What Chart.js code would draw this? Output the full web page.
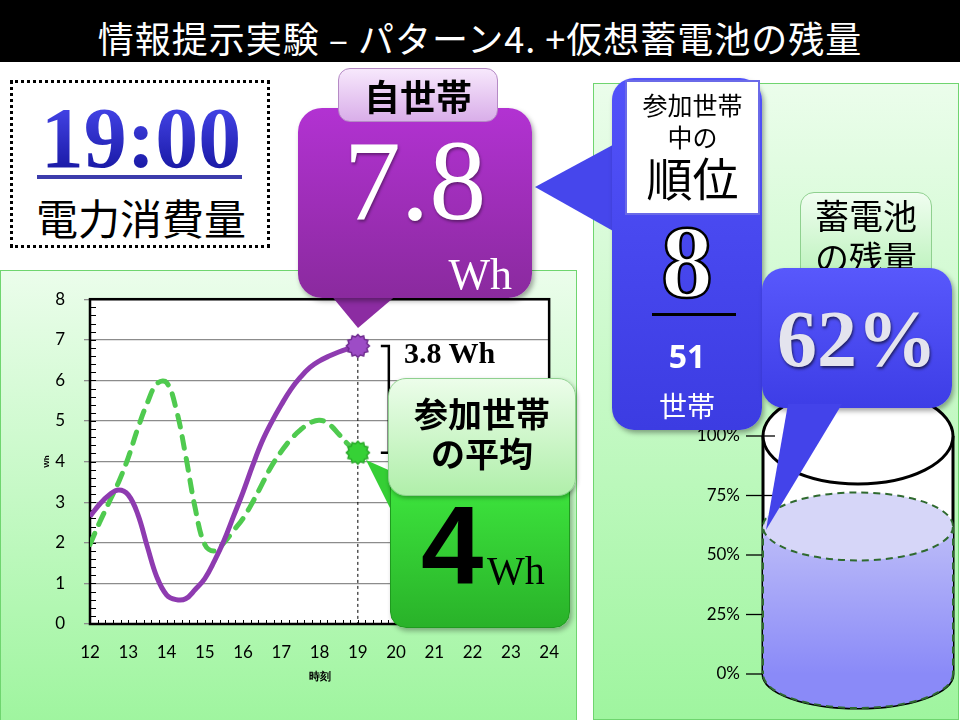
<!DOCTYPE html>
<html>
<head>
<meta charset="utf-8">
<script src="https://cdn.jsdelivr.net/npm/chart.js@4.4.0/dist/chart.umd.min.js"></script>
<style>
  body { margin: 0; background: #fff; }
  #slide { position: relative; width: 960px; height: 720px; overflow: hidden; background: #fff;
    font-family: "Noto Sans CJK JP", sans-serif; }
  .abs { position: absolute; }
  #title { left: 0; top: 0; width: 960px; height: 62px; background: #000; color: #fff;
    font-size: 36px; line-height: 62px; text-align: center; padding-top: 6px; box-sizing: border-box; letter-spacing: 1px; }
  .panel { background: linear-gradient(#ebfdeb, #9ff59f); border: 1px solid #6fd56f; box-sizing: border-box; }
  .serif { font-family: "Liberation Serif", serif; }
  .tri { position: absolute; left: 0; top: 0; width: 960px; height: 720px; }
</style>
</head>
<body>
<div id="slide">
  <div id="title" class="abs">情報提示実験 – パターン4. +仮想蓄電池の残量</div>

  <!-- clock box -->
  <div class="abs" style="left:10px;top:80px;width:260px;height:168px;border:3px dotted #000;box-sizing:border-box;"></div>
  <div class="abs serif" style="left:10px;top:95px;width:262px;text-align:center;font-size:86px;line-height:86px;font-weight:bold;
    background:linear-gradient(#4b4bf2,#12129a);-webkit-background-clip:text;background-clip:text;color:transparent;">19:00</div>
  <div class="abs" style="left:37px;top:175px;width:205px;height:4px;background:#3c3cac;"></div>
  <div class="abs" style="left:10px;top:190px;width:262px;text-align:center;font-size:42px;line-height:54px;">電力消費量</div>

  <!-- panels -->
  <div class="abs panel" style="left:0;top:270px;width:577px;height:452px;"></div>
  <div class="abs panel" style="left:593px;top:83px;width:366px;height:637px;"></div>

  <canvas id="lineChart" class="abs" width="577" height="450" style="left:0;top:270px;"></canvas>
  <canvas id="tankChart" class="abs" width="280" height="340" style="left:680px;top:380px;"></canvas>

  <div class="abs serif" style="left:404px;top:338px;font-size:30px;line-height:30px;font-weight:bold;">3.8 Wh</div>

  <!-- callout tails -->
  <svg class="tri" viewBox="0 0 960 720">
    <polygon points="325,288 405,288 358,328" fill="#8c2ca2"/>
    <polygon points="622,140 622,236 535,187" fill="#4646ec"/>
    <polygon points="366,460 402,476 402,532" fill="#35cf35"/>
  </svg>

  <!-- own household callout -->
  <div class="abs" style="left:298px;top:108px;width:234px;height:190px;border-radius:24px;
    background:linear-gradient(#b232d2,#8a2a9e);box-shadow:2px 3px 5px rgba(0,0,0,0.35);">
    <div class="abs serif" style="left:0;top:16px;width:234px;text-align:center;color:#fff;font-size:114px;line-height:114px;
      text-shadow:1px 2px 3px rgba(0,0,0,0.4);">7.8</div>
    <div class="abs serif" style="right:20px;top:145px;color:#fff;font-size:44px;line-height:44px;">Wh</div>
  </div>
  <div class="abs" style="left:338px;top:68px;width:160px;height:54px;border-radius:12px;box-sizing:border-box;
    background:linear-gradient(#f7e8fc,#d9aee9);border:1px solid #b58ac5;text-align:center;font-size:36px;line-height:52px;font-weight:bold;">自世帯</div>

  <!-- average callout -->
  <div class="abs" style="left:390px;top:470px;width:180px;height:158px;border-radius:16px;box-sizing:border-box;
    background:linear-gradient(#3fe93f,#29b229);border:1px solid #1f9a1f;box-shadow:2px 3px 5px rgba(0,0,0,0.3);">
    <div class="abs" style="left:30px;top:19px;font-family:'Liberation Sans',sans-serif;font-weight:bold;font-size:112px;line-height:112px;">4</div>
    <div class="abs serif" style="left:96px;top:80px;font-size:40px;line-height:40px;">Wh</div>
  </div>
  <div class="abs" style="left:388px;top:378px;width:188px;height:118px;border-radius:18px;box-sizing:border-box;
    background:linear-gradient(#ecfdea,#b0efaa);border:1px solid #8fd08f;box-shadow:1px 2px 4px rgba(0,0,0,0.3);
    text-align:center;font-size:34px;line-height:40px;font-weight:bold;padding-top:14px;">参加世帯<br>の平均</div>

  <!-- rank callout -->
  <div class="abs" style="left:612px;top:78px;width:150px;height:352px;border-radius:22px;
    background:linear-gradient(#5252fa,#3c3ce2);box-shadow:2px 3px 5px rgba(0,0,0,0.35);"></div>
  <div class="abs" style="left:625px;top:80px;width:135px;height:135px;background:#fff;border:2px solid #6a6ae8;box-sizing:border-box;text-align:center;">
    <div style="font-size:25px;line-height:32px;margin-top:6px;">参加世帯</div>
    <div style="font-size:25px;line-height:32px;">中の</div>
    <div style="font-size:46px;line-height:52px;margin-top:-2px;">順位</div>
  </div>
  <div class="abs serif" style="left:612px;top:210px;width:150px;text-align:center;color:#fff;font-weight:bold;font-size:104px;line-height:104px;
    -webkit-text-stroke:2.5px #000;">8</div>
  <div class="abs" style="left:652px;top:313px;width:84px;height:3px;background:#000;"></div>
  <div class="abs" style="left:612px;top:335px;width:150px;text-align:center;color:#fff;font-weight:bold;font-size:32px;line-height:42px;font-family:'Open Sans',sans-serif;">51</div>
  <div class="abs" style="left:612px;top:385px;width:150px;text-align:center;color:#fff;font-size:28px;line-height:40px;">世帯</div>

  <!-- battery -->
  <div class="abs" style="left:800px;top:192px;width:132px;height:92px;border-radius:14px;box-sizing:border-box;
    background:linear-gradient(#f0fdf0,#b8f2b8);border:1px solid #8fd08f;text-align:center;font-size:34px;line-height:42px;padding-top:1px;">蓄電池<br>の残量</div>
  <div class="abs" style="left:762px;top:268px;width:190px;height:140px;border-radius:22px;
    background:linear-gradient(#5858fc,#3d3de6);box-shadow:2px 3px 5px rgba(0,0,0,0.35);">
    <div class="abs serif" style="left:0;top:31px;width:190px;text-align:center;color:#e4e4ee;font-size:80px;line-height:80px;font-weight:bold;
      text-shadow:1px 2px 3px rgba(0,0,0,0.6);">62%</div>
  </div>
  <svg class="tri" viewBox="0 0 960 720" style="pointer-events:none;">
    <polygon points="788,404 842,404 766,530" fill="#4343ea"/>
  </svg>
</div>

<script>
// time of day (hours) and consumption in Wh
const hours = [12, 12.25, 12.5, 12.75, 13, 13.25, 13.5, 13.75, 14, 14.25, 14.5, 14.75, 15, 15.25, 15.5,
  15.75, 16, 16.25, 16.5, 16.75, 17, 17.25, 17.5, 17.75, 18, 18.25, 18.5, 18.75, 19];
const selfWh = [2.65, 2.95, 3.18, 3.3, 3.18, 2.7, 1.9, 1.15, 0.72, 0.6, 0.62, 0.85, 1.12, 1.55, 2.05,
  2.65, 3.25, 3.9, 4.5, 4.98, 5.4, 5.78, 6.08, 6.32, 6.48, 6.6, 6.7, 6.78, 6.85];
const avgWh = [1.96, 2.5, 3.0, 3.5, 4.1, 4.82, 5.45, 5.92, 5.95, 5.3, 4.15, 2.85, 1.96, 1.8, 2.0,
  2.3, 2.6, 3.0, 3.45, 3.9, 4.25, 4.55, 4.78, 4.95, 5.02, 4.92, 4.68, 4.42, 4.22];
const nowHour = 19;

// battery
const tankLabels = ['蓄電池'];
const batteryPct = [62];
const batteryTicks = [0, 25, 50, 75, 100];

const nowIdx = hours.indexOf(nowHour);

// little sunburst marker for the current hour
function burst(fill, edge) {
  const c = document.createElement('canvas');
  c.width = c.height = 26;
  const g = c.getContext('2d');
  g.beginPath();
  for (let i = 0; i < 24; i++) {
    const r = i % 2 ? 9.3 : 11.5;
    const ang = i * Math.PI / 12;
    g.lineTo(13 + r * Math.cos(ang), 13 + r * Math.sin(ang));
  }
  g.closePath();
  g.fillStyle = fill; g.fill();
  g.strokeStyle = edge; g.lineWidth = 1.5; g.stroke();
  return c;
}
const purpleBurst = burst('#9d4cc6', '#6e2a8e');
const greenBurst = burst('#36d136', '#2aa82a');

const chartFrame = {
  id: 'chartFrame',
  beforeDraw(chart) {
    const { ctx, chartArea: a } = chart;
    ctx.save();
    ctx.fillStyle = '#fff';
    ctx.fillRect(a.left, a.top, a.width, a.height);
    ctx.restore();
  },
  beforeDatasetsDraw(chart) {
    const { ctx, chartArea: a, scales: { x, y } } = chart;
    ctx.save();
    // minor ticks, pointing inward
    ctx.strokeStyle = '#000';
    ctx.lineWidth = 1;
    for (let v = 0; v <= 8.001; v += 0.2) {
      const py = Math.round(y.getPixelForValue(v)) + 0.5;
      ctx.beginPath(); ctx.moveTo(a.left, py); ctx.lineTo(a.left + 6, py); ctx.stroke();
    }
    for (let h = 12; h <= 24.001; h += 0.2) {
      const px = Math.round(x.getPixelForValue(h)) + 0.5;
      ctx.beginPath(); ctx.moveTo(px, a.bottom); ctx.lineTo(px, a.bottom - 4); ctx.stroke();
    }
    // current hour guide
    const gx = x.getPixelForValue(nowHour);
    ctx.setLineDash([3, 3]);
    ctx.beginPath(); ctx.moveTo(gx, y.getPixelForValue(selfWh[nowIdx])); ctx.lineTo(gx, a.bottom); ctx.stroke();
    ctx.setLineDash([]);
    // frame
    ctx.lineWidth = 2.5;
    ctx.strokeRect(a.left, a.top, a.width, a.height);
    ctx.restore();
  },
  afterDraw(chart) {
    const { ctx, scales: { x, y } } = chart;
    const bx = x.getPixelForValue(nowHour) + 23;
    const t = y.getPixelForValue(selfWh[nowIdx]);
    const b = y.getPixelForValue(avgWh[nowIdx]);
    ctx.save();
    ctx.strokeStyle = '#000';
    ctx.lineWidth = 2.5;
    ctx.beginPath();
    ctx.moveTo(bx, t); ctx.lineTo(bx + 8, t); ctx.lineTo(bx + 8, b); ctx.lineTo(bx, b);
    ctx.moveTo(bx + 8, (t + b) / 2); ctx.lineTo(bx + 16, (t + b) / 2);
    ctx.stroke();
    ctx.restore();
  }
};

new Chart(document.getElementById('lineChart'), {
  type: 'line',
  data: {
    datasets: [{
      label: '自世帯',
      data: hours.map((h, i) => ({ x: h, y: selfWh[i] })),
      borderColor: '#8e3bb0',
      borderWidth: 5,
      tension: 0.4,
      pointRadius: c => c.dataIndex === nowIdx ? 11 : 0,
      pointStyle: c => c.dataIndex === nowIdx ? purpleBurst : 'circle'
    }, {
      label: '参加世帯の平均',
      data: hours.map((h, i) => ({ x: h, y: avgWh[i] })),
      borderColor: '#4fca4f',
      borderWidth: 5,
      borderDash: [12, 10],
      borderCapStyle: 'round',
      tension: 0.4,
      pointRadius: c => c.dataIndex === nowIdx ? 11 : 0,
      pointStyle: c => c.dataIndex === nowIdx ? greenBurst : 'circle'
    }]
  },
  options: {
    responsive: false,
    animation: false,
    layout: { padding: { left: 30, top: 25, right: 27, bottom: 30 } },
    plugins: { legend: { display: false }, tooltip: { enabled: false } },
    scales: {
      x: {
        type: 'linear', min: 12, max: 24,
        ticks: { stepSize: 1, color: '#000', padding: 18, font: { family: 'Lato', size: 17 } },
        grid: { display: false, drawTicks: false },
        border: { color: '#000', width: 2 },
        title: { display: true, text: '時刻', color: '#000', font: { size: 11, weight: 'bold' }, padding: { top: 4, bottom: 6 } },
        afterFit: s => { s.height = 66; }
      },
      y: {
        min: 0, max: 8,
        ticks: { stepSize: 1, color: '#000', padding: 19, font: { family: 'Lato', size: 17 } },
        grid: { color: '#8c8c8c', lineWidth: 1.3, tickLength: 6 },
        border: { color: '#000', width: 2 },
        title: { display: true, text: 'Wh', color: '#000', font: { size: 8, weight: 'bold' }, padding: { top: 12, bottom: 0 } },
        afterFit: s => { s.width = 60; }
      }
    }
  },
  plugins: [chartFrame]
});

const tankShape = {
  id: 'tankShape',
  beforeDatasetsDraw(chart) {
    const { ctx, chartArea: a, scales: { y } } = chart;
    const cx = (a.left + a.right) / 2, rx = a.width / 2;
    const y100 = y.getPixelForValue(100), y0 = y.getPixelForValue(0);
    ctx.save();
    ctx.fillStyle = '#fff';
    ctx.fillRect(a.left, y100, a.width, y0 - y100);
    ctx.beginPath(); ctx.ellipse(cx, y0, rx, 34, 0, 0, Math.PI); ctx.fill();
    ctx.strokeStyle = '#000';
    ctx.lineWidth = 3;
    ctx.beginPath();
    ctx.moveTo(a.left, y100); ctx.lineTo(a.left, y0);
    ctx.moveTo(a.right, y100); ctx.lineTo(a.right, y0);
    ctx.stroke();
    ctx.beginPath(); ctx.ellipse(cx, y0, rx, 34, 0, 0, Math.PI); ctx.stroke();
    ctx.beginPath(); ctx.ellipse(cx, y100, rx, 48, 0, 0, Math.PI * 2);
    ctx.fillStyle = '#fff'; ctx.fill(); ctx.stroke();
    // tick marks
    ctx.lineWidth = 1.3;
    batteryTicks.forEach(v => {
      const py = y.getPixelForValue(v);
      ctx.beginPath(); ctx.moveTo(a.left - 17, py); ctx.lineTo(a.left + 12, py); ctx.stroke();
    });
    ctx.restore();
  },
  afterDatasetsDraw(chart) {
    const { ctx, chartArea: a, scales: { y } } = chart;
    const cx = (a.left + a.right) / 2, rx = a.width / 2;
    const yt = y.getPixelForValue(batteryPct[0]), y0 = y.getPixelForValue(0);
    ctx.save();
    ctx.fillStyle = '#8a8af8';
    ctx.beginPath(); ctx.ellipse(cx, y0, rx, 34, 0, 0, Math.PI); ctx.fill();
    ctx.strokeStyle = '#2f6a2f';
    ctx.lineWidth = 2;
    ctx.setLineDash([7, 5]);
    ctx.beginPath(); ctx.ellipse(cx, y0, rx, 34, 0, 0, Math.PI); ctx.stroke();
    ctx.beginPath();
    ctx.moveTo(a.left, yt); ctx.lineTo(a.left, y0);
    ctx.moveTo(a.right, yt); ctx.lineTo(a.right, y0);
    ctx.stroke();
    ctx.fillStyle = '#d6d6f8';
    ctx.beginPath(); ctx.ellipse(cx, yt, rx, 34, 0, 0, Math.PI * 2); ctx.fill(); ctx.stroke();
    ctx.restore();
  }
};

new Chart(document.getElementById('tankChart'), {
  type: 'bar',
  data: {
    labels: tankLabels,
    datasets: [{
      data: batteryPct,
      barPercentage: 1,
      categoryPercentage: 1,
      backgroundColor: c => {
        const a = c.chart.chartArea;
        if (!a) return '#b0b0f4';
        const g = c.chart.ctx.createLinearGradient(0, a.top, 0, a.bottom);
        g.addColorStop(0, '#dcdcf8');
        g.addColorStop(1, '#8a8af8');
        return g;
      }
    }]
  },
  options: {
    responsive: false,
    animation: false,
    layout: { padding: { left: 0, top: 56, right: 7, bottom: 46 } },
    plugins: { legend: { display: false }, tooltip: { enabled: false } },
    scales: {
      x: { display: false },
      y: {
        min: 0, max: 100,
        afterBuildTicks: s => { s.ticks = batteryTicks.map(v => ({ value: v })); },
        ticks: { color: '#000', padding: 23, font: { family: 'Lato', size: 17 }, callback: v => v + '%' },
        grid: { display: false, drawTicks: false },
        border: { display: false },
        afterFit: s => { s.width = 83; }
      }
    }
  },
  plugins: [tankShape]
});
</script>
</body>
</html>
